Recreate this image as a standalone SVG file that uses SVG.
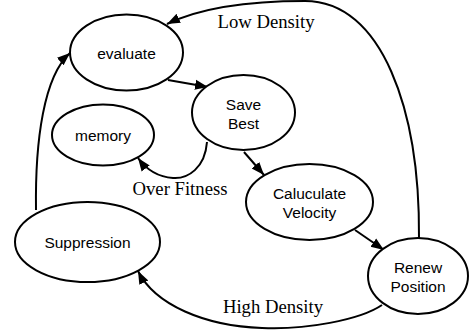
<svg xmlns="http://www.w3.org/2000/svg" width="470" height="334" viewBox="0 0 470 334">
<defs>
<style>
.node ellipse{fill:#fff;stroke:#000;stroke-width:2}
.node text{font-family:"Liberation Sans",Arial,sans-serif;font-size:15.5px;text-anchor:middle;fill:#000}
.edges path{fill:none;stroke:#000;stroke-width:2;marker-end:url(#arr)}
.lbl{font-family:"Liberation Serif","Times New Roman",serif;font-size:18.7px;text-anchor:middle;fill:#000}
</style>
<marker id="arr" markerUnits="userSpaceOnUse" markerWidth="14" markerHeight="12" viewBox="0 0 14 12" refX="13" refY="6" orient="auto">
<path d="M0,1 L13,6 L0,11 Z" fill="#000"/>
</marker>
</defs>
<g class="edges">
<path d="M168,80 L208,87"/>
<path d="M244,152 L264,175"/>
<path d="M355,230 L384,250"/>
<path d="M207,142 C205,168 188,179 173,178 C158,177 146,169 138,158"/>
<path d="M36,210 C35,140 44,76 70,53"/>
<path d="M419,238 C420,110 382,1 305,1 C250,1 200,8 167,24"/>
<path d="M382,305 C360,320 305,330 262,328 C205,326 155,305 138,271"/>
</g>
<g id="evaluate" class="node"><ellipse cx="126.5" cy="52.5" rx="56.5" ry="38"/><text x="126.5" y="59">evaluate</text></g>
<g id="savebest" class="node"><ellipse cx="243.5" cy="112.5" rx="51.5" ry="37.5"/><text x="243.5" y="110">Save</text><text x="243.5" y="129">Best</text></g>
<g id="memory" class="node"><ellipse cx="103" cy="135" rx="51" ry="30.5"/><text x="103" y="141">memory</text></g>
<g id="velocity" class="node"><ellipse cx="309.5" cy="202" rx="63.5" ry="38"/><text x="309.5" y="199">Caluculate</text><text x="309.5" y="218">Velocity</text></g>
<g id="suppression" class="node"><ellipse cx="87.5" cy="242" rx="72.5" ry="40"/><text x="87.5" y="248">Suppression</text></g>
<g id="renew" class="node"><ellipse cx="418" cy="276" rx="50" ry="38"/><text x="418" y="273">Renew</text><text x="418" y="292">Position</text></g>
<text class="lbl" x="266" y="28">Low Density</text>
<text class="lbl" x="180" y="195">Over Fitness</text>
<text class="lbl" x="273" y="313">High Density</text>
</svg>
